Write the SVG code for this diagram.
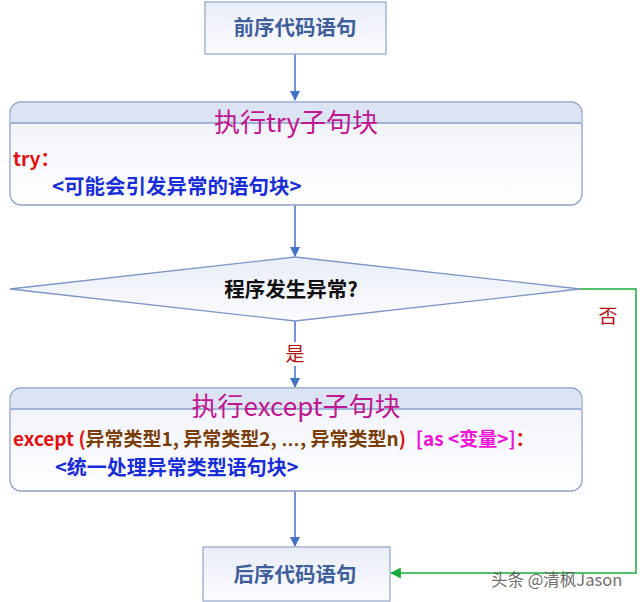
<svg xmlns="http://www.w3.org/2000/svg" width="640" height="602" viewBox="0 0 640 602">
<defs>
<linearGradient id="gBox" x1="0" y1="0" x2="0" y2="1">
<stop offset="0" stop-color="#e9edf7"/><stop offset="1" stop-color="#fbfcfe"/>
</linearGradient>
<linearGradient id="gPanel" x1="0" y1="0" x2="0" y2="1">
<stop offset="0" stop-color="#eef1f9"/><stop offset="1" stop-color="#ffffff"/>
</linearGradient>
<marker id="aBlue" viewBox="0 0 10 10" refX="9" refY="5" markerWidth="10" markerHeight="10" markerUnits="userSpaceOnUse" orient="auto">
<path d="M0,0 L10,5 L0,10 Z" fill="#4472c4"/>
</marker>
<marker id="aGreen" viewBox="0 0 10 10" refX="9" refY="5" markerWidth="11" markerHeight="11" markerUnits="userSpaceOnUse" orient="auto">
<path d="M0,0 L10,5 L0,10 Z" fill="#1aab3c"/>
</marker>
</defs>
<style>
.box{fill:url(#gBox);stroke:#9aa9cc;stroke-width:1.3}
.panel{fill:url(#gPanel);stroke:#93a3c6;stroke-width:1.3}
.band{fill:#dce3f3}
.sep{stroke:#8aa0cc;stroke-width:1.5}
.t{font-family:"Noto Sans CJK SC","Liberation Sans",sans-serif}
.boxt{font-size:20.5px;font-weight:bold;fill:#3f5f9c;text-anchor:middle}
.title{font-size:26px;fill:#c0168f;text-anchor:middle}
.red{fill:#e01010;font-weight:bold}
.blue{fill:#1a2ed8;font-weight:bold}
.brown{fill:#7a3d0a;font-weight:bold}
.mag{fill:#f010d8;font-weight:bold}
.lbl{font-size:19px;fill:#b01010}
.c{stroke:#4472c4;stroke-width:1.5;fill:none}
.g{stroke:#1aab3c;stroke-width:1.5;fill:none}
</style>
<g id="connectors">
<line class="c" x1="295" y1="54" x2="295" y2="100" marker-end="url(#aBlue)"/>
<line class="c" x1="295" y1="205" x2="295" y2="256" marker-end="url(#aBlue)"/>
<line class="c" x1="295" y1="321" x2="295" y2="387" marker-end="url(#aBlue)"/>
<line class="c" x1="295" y1="491" x2="295" y2="546" marker-end="url(#aBlue)"/>
<polyline class="g" points="580,289 636,289 636,573 391,573" marker-end="url(#aGreen)"/>
<rect x="283" y="342" width="24" height="24" fill="#ffffff"/>
<text class="t lbl" x="295" y="361" text-anchor="middle">是</text>
<text class="t lbl" x="608" y="323" text-anchor="middle">否</text>
</g>
<g id="start">
<rect class="box" x="205" y="2" width="181" height="52"/>
<text class="t boxt" x="295" y="35">前序代码语句</text>
</g>
<g id="try-block">
<rect class="panel" x="10" y="102" width="572" height="103" rx="11"/>
<path class="band" d="M21,102.7 H571 A10.3,10.3 0 0 1 581.3,113 V123 H10.7 V113 A10.3,10.3 0 0 1 21,102.7 Z"/>
<line class="sep" x1="10.7" y1="123" x2="581.3" y2="123"/>
<text class="t title" x="296" y="132">执行try子句块</text>
<text class="t red" x="13" y="166" font-size="19">try：</text>
<text class="t blue" x="52" y="194" font-size="20.5">&lt;可能会引发异常的语句块&gt;</text>
</g>
<g id="decision">
<polygon points="10,289 295,257 580,289 295,321" fill="url(#gBox)" stroke="#7f95c6" stroke-width="1.3"/>
<text class="t" x="291" y="297" font-size="20.5" font-weight="bold" fill="#111" text-anchor="middle">程序发生异常?</text>
</g>
<g id="except-block">
<rect class="panel" x="10" y="388" width="572" height="103" rx="11"/>
<path class="band" d="M21,388.7 H571 A10.3,10.3 0 0 1 581.3,399 V409 H10.7 V399 A10.3,10.3 0 0 1 21,388.7 Z"/>
<line class="sep" x1="10.7" y1="409" x2="581.3" y2="409"/>
<text class="t title" x="296" y="416">执行except子句块</text>
<text class="t" x="13" y="446" font-size="19"><tspan class="red">except (</tspan><tspan class="brown">异常类型1, 异常类型2, </tspan><tspan class="brown" font-family="Liberation Sans">…</tspan><tspan class="brown">,  异常类型n</tspan><tspan class="red">)</tspan><tspan class="mag" dx="10">[as &lt;变量&gt;]</tspan><tspan class="red">：</tspan></text>
<text class="t blue" x="55" y="475" font-size="20">&lt;统一处理异常类型语句块&gt;</text>
</g>
<g id="end">
<rect class="box" x="203" y="547" width="187" height="54"/>
<text class="t boxt" x="295" y="582">后序代码语句</text>
</g>
<text x="491" y="586" font-family="Noto Sans CJK SC, Liberation Sans, sans-serif" font-size="16.5" fill="#555" opacity="0.85">头条 @清枫Jason</text>
</svg>
